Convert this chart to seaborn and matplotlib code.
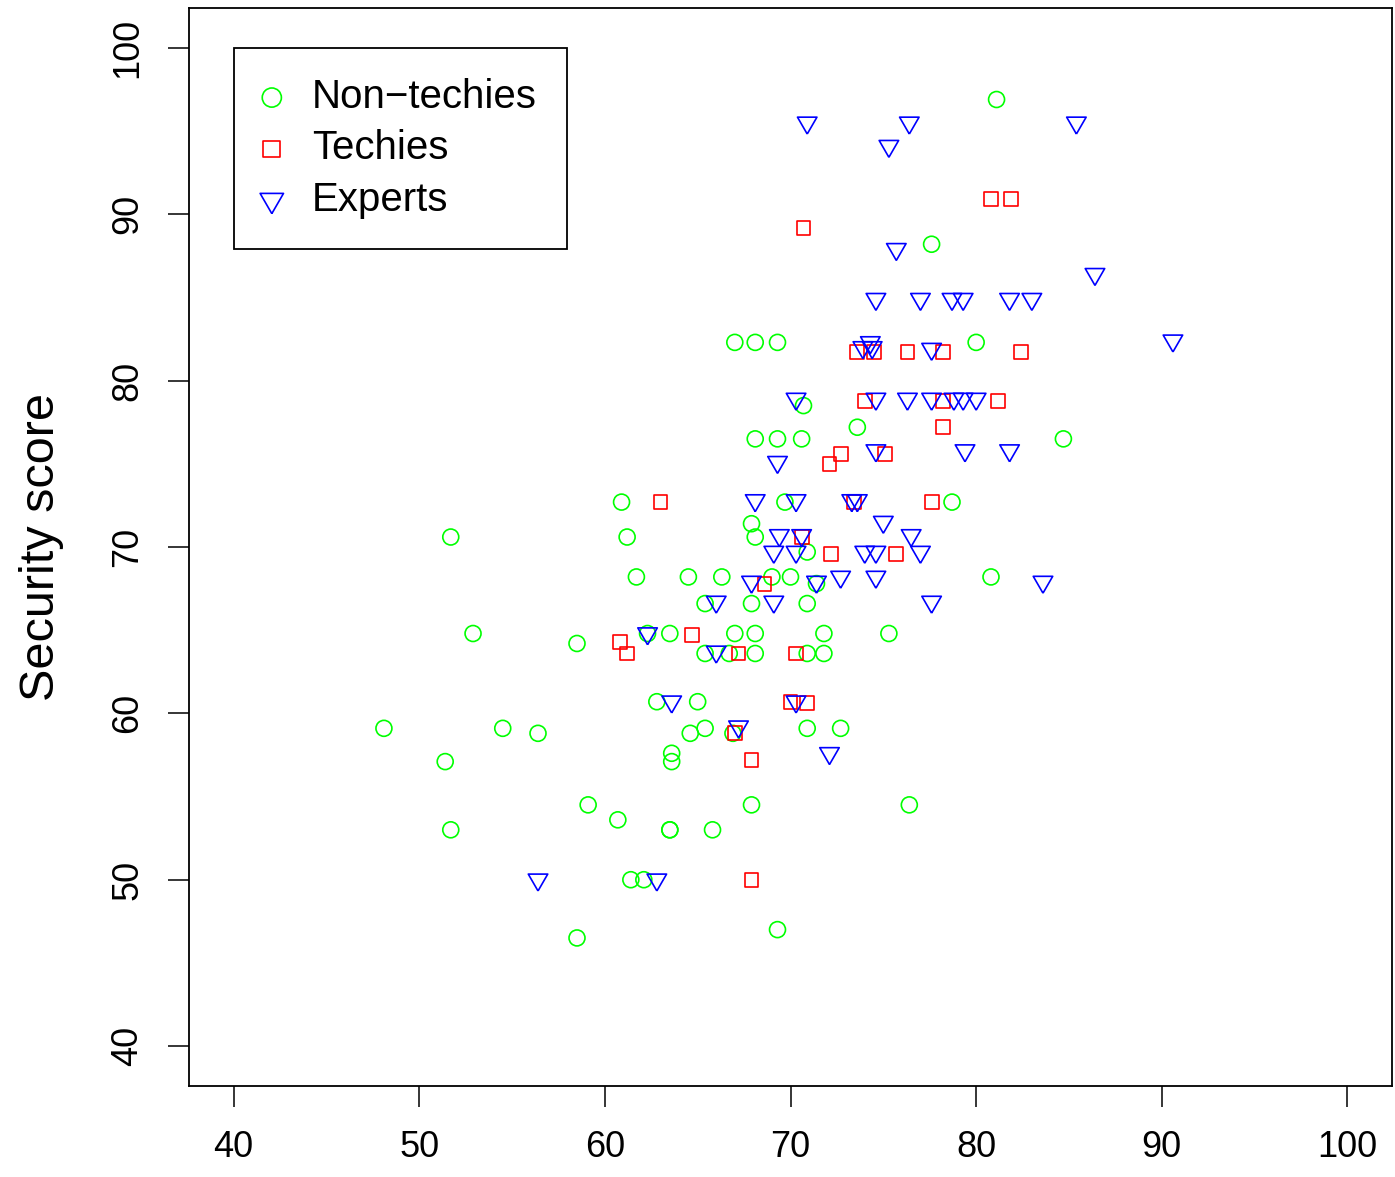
import numpy as np
import pandas as pd
import seaborn as sns
import matplotlib.pyplot as plt
from matplotlib.markers import MarkerStyle

# Değerler (yaklaşık)
nontech_x = [81.1, 77.6, 67.0, 68.1, 69.3, 80.0, 70.7, 73.6, 68.1, 69.3, 70.6, 84.7,
             60.9, 69.7, 78.7, 67.9, 51.7, 61.2, 68.1, 70.9, 61.7, 64.5, 66.3, 69.0,
             70.0, 71.4, 80.8, 65.4, 67.9, 70.9, 52.9, 58.5, 62.3, 63.5, 67.0, 68.1,
             71.8, 75.3, 65.4, 66.7, 68.1, 70.9, 71.8, 62.8, 65.0, 48.1, 54.5, 65.4,
             70.9, 72.7, 56.4, 64.6, 66.9, 63.6, 63.6, 51.4, 59.1, 67.9, 76.4, 60.7,
             51.7, 63.5, 63.5, 65.8, 61.4, 62.1, 58.5, 69.3]
nontech_y = [96.9, 88.2, 82.3, 82.3, 82.3, 82.3, 78.5, 77.2, 76.5, 76.5, 76.5, 76.5,
             72.7, 72.7, 72.7, 71.4, 70.6, 70.6, 70.6, 69.7, 68.2, 68.2, 68.2, 68.2,
             68.2, 67.8, 68.2, 66.6, 66.6, 66.6, 64.8, 64.2, 64.8, 64.8, 64.8, 64.8,
             64.8, 64.8, 63.6, 63.6, 63.6, 63.6, 63.6, 60.7, 60.7, 59.1, 59.1, 59.1,
             59.1, 59.1, 58.8, 58.8, 58.8, 57.6, 57.1, 57.1, 54.5, 54.5, 54.5, 53.6,
             53.0, 53.0, 53.0, 53.0, 50.0, 50.0, 46.5, 47.0]

techies_x = [80.8, 81.9, 70.7, 73.6, 74.5, 76.3, 78.2, 82.4, 74.0, 78.2, 81.2, 78.2,
             72.7, 75.1, 72.1, 63.0, 73.4, 77.6, 70.6, 72.2, 75.7, 68.6, 64.7, 60.8,
             61.2, 67.2, 70.3, 70.0, 70.9, 67.0, 67.9, 67.9]
techies_y = [90.9, 90.9, 89.2, 81.7, 81.7, 81.7, 81.7, 81.7, 78.8, 78.8, 78.8, 77.2,
             75.6, 75.6, 75.0, 72.7, 72.7, 72.7, 70.6, 69.6, 69.6, 67.8, 64.7, 64.3,
             63.6, 63.6, 63.6, 60.7, 60.6, 58.8, 57.2, 50.0]

experts_x = [70.9, 76.4, 85.4, 75.3, 75.7, 86.4, 74.6, 77.0, 78.7, 79.3, 81.8, 83.0,
             90.6, 73.9, 74.4, 74.3, 77.6, 70.3, 74.6, 76.3, 77.6, 78.8, 79.3, 80.0,
             74.6, 79.4, 81.8, 69.3, 68.1, 70.3, 73.3, 73.6, 75.0, 69.4, 70.6, 76.5,
             69.1, 70.3, 74.0, 74.6, 77.0, 67.9, 71.4, 72.7, 74.6, 83.6, 66.0, 69.1,
             77.6, 62.3, 66.0, 63.6, 70.3, 67.2, 72.1, 56.4, 62.8]
experts_y = [95.5, 95.5, 95.5, 94.1, 87.9, 86.4, 84.9, 84.9, 84.9, 84.9, 84.9, 84.9,
             82.4, 82.0, 82.0, 82.3, 81.9, 78.9, 78.9, 78.9, 78.9, 78.9, 78.9, 78.9,
             75.8, 75.8, 75.8, 75.1, 72.8, 72.8, 72.8, 72.8, 71.5, 70.7, 70.7, 70.7,
             69.7, 69.7, 69.7, 69.7, 69.7, 67.9, 67.9, 68.2, 68.2, 67.9, 66.7, 66.7,
             66.7, 64.8, 63.7, 60.7, 60.7, 59.2, 57.6, 50.0, 50.0]

groups = ['Non\u2212techies', 'Techies', 'Experts']

df = pd.concat([
    pd.DataFrame({'x': nontech_x, 'y': nontech_y, 'grup': groups[0]}),
    pd.DataFrame({'x': techies_x, 'y': techies_y, 'grup': groups[1]}),
    pd.DataFrame({'x': experts_x, 'y': experts_y, 'grup': groups[2]}),
])

sns.set_style('white')
plt.rcParams['font.family'] = ['Liberation Sans', 'DejaVu Sans']
for k in ['text.color', 'axes.labelcolor', 'xtick.color', 'ytick.color']:
    plt.rcParams[k] = 'black'

# R tarzı eşkenar üçgen (aşağı bakan)
tri = MarkerStyle([(0, -1), (0.866, 0.5), (-0.866, 0.5), (0, -1)])
stil = {
    groups[0]: dict(marker='o', color='#00ff00', s=132),
    groups[1]: dict(marker='s', color='#ff0000', s=100),
    groups[2]: dict(marker=tri, color='#0000ff', s=262),
}

fig = plt.figure(figsize=(13.95, 11.77), dpi=100)
ax = fig.add_axes([189 / 1395, 91 / 1177, 1203 / 1395, 1078 / 1177])

for g in groups:
    st = stil[g]
    sns.scatterplot(data=df[df['grup'] == g], x='x', y='y', ax=ax,
                    marker=st['marker'], s=st['s'], facecolors='none',
                    edgecolor=st['color'], linewidth=1.2, label=g)

ax.set_xlim(37.6, 102.4)
ax.set_ylim(37.6, 102.4)
ax.set_xticks(np.arange(40, 101, 10))
ax.set_yticks(np.arange(40, 101, 10))
ax.set_xlabel('')
ax.set_ylabel('Security score', fontsize=35, va='center')
ax.yaxis.set_label_coords(-0.1222, 0.5)

for sp in ax.spines.values():
    sp.set_visible(True)
    sp.set_color('black')
    sp.set_linewidth(1.3)

ax.tick_params(axis='both', direction='out', length=15, width=1.1,
               labelsize=26, pad=16.5, color='black', labelcolor='black',
               bottom=True, left=True)
for lab in ax.get_yticklabels():
    lab.set_rotation(90)
    lab.set_va('center')

leg = ax.legend(loc='upper left', bbox_to_anchor=(40, 100),
                bbox_transform=ax.transData, borderaxespad=0,
                fontsize=29, frameon=True, fancybox=False, framealpha=1,
                edgecolor='black', borderpad=0.75, labelspacing=0.33,
                handlelength=0.4, handletextpad=0.8, markerscale=1.2)
leg.get_frame().set_linewidth(1.3)
for t in leg.get_texts():
    t.set_color('black')

plt.savefig('out.png', dpi=100)
plt.close()
